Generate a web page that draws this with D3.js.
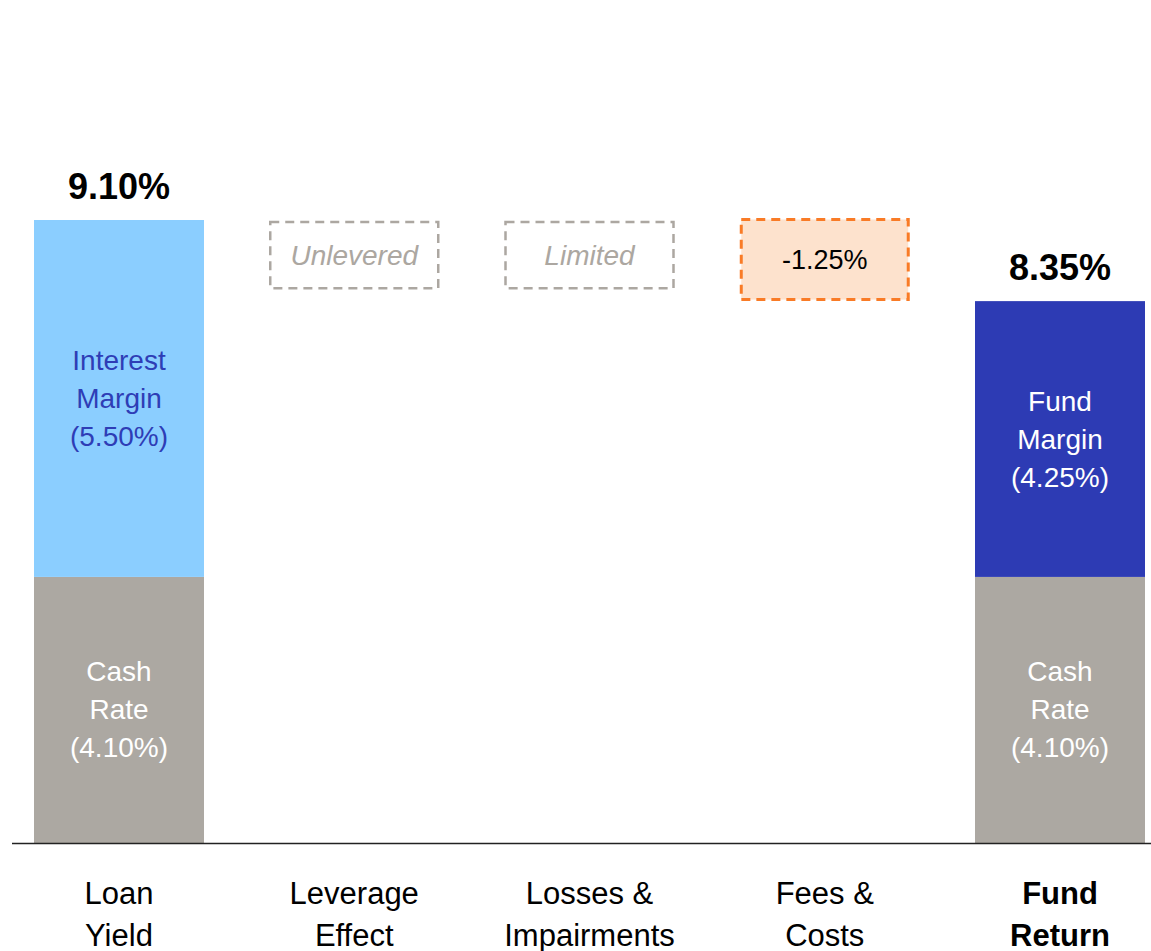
<!DOCTYPE html>
<html>
<head>
<meta charset="utf-8">
<script src="https://cdn.jsdelivr.net/npm/d3@7"></script>
<style>
  html, body { margin: 0; padding: 0; background: #fff; }
  svg { display: block; font-family: Arial, "Liberation Sans", sans-serif; }
</style>
</head>
<body>
<svg id="chart" width="1151" height="951"></svg>
<script>
// ---- data ----
const categories = ["Loan Yield", "Leverage Effect", "Losses & Impairments", "Fees & Costs", "Fund Return"];
const categoryLines = [["Loan", "Yield"], ["Leverage", "Effect"], ["Losses &", "Impairments"], ["Fees &", "Costs"], ["Fund", "Return"]];
const cashRate = [4.10, null, null, null, 4.10];
const marginValues = [5.50, null, null, null, 4.25];
const marginNames = [["Interest", "Margin"], null, null, null, ["Fund", "Margin"]];
const totalLabels = ["9.10%", null, null, null, "8.35%"];
const placeholderText = [null, "Unlevered", "Limited", null, null];
const placeholderRange = [8.55, 9.60];
const feeValue = -1.25;
const feeTop = 9.60;

// ---- layout ----
const svg = d3.select("#chart");
const W = 1151, H = 951;
const baseY = 843;

const x = d3.scaleBand().domain(categories).range([34, 1145]).paddingInner(0.2774).paddingOuter(0);
const y = d3.scaleLinear().domain([0, 9.60]).range([baseY, 220]);
const bw = x.bandwidth();
const cx = c => x(c) + bw / 2;

const colors = {
  cash: "#aca8a2", interest: "#8bceff", fund: "#2d3bb4",
  interestText: "#2e3db6", gray: "#aca7a1", orange: "#f97b26", peach: "#fde2cd"
};

// stacked bars
categories.forEach((c, i) => {
  if (cashRate[i] == null) return;
  const x0 = x(c);
  const segs = [
    { lo: 0, hi: cashRate[i], fill: colors.cash, lines: ["Cash", "Rate", `(${cashRate[i].toFixed(2)}%)`], tc: "#fff" },
    { lo: cashRate[i], hi: cashRate[i] + marginValues[i], fill: i === 0 ? colors.interest : colors.fund,
      lines: [...marginNames[i], `(${marginValues[i].toFixed(2)}%)`], tc: i === 0 ? colors.interestText : "#fff" }
  ];
  segs.forEach(s => {
    svg.append("rect").attr("x", x0).attr("width", bw)
      .attr("y", y(s.hi)).attr("height", y(s.lo) - y(s.hi)).attr("fill", s.fill);
    const mid = (y(s.lo) + y(s.hi)) / 2;
    const lh = 38;
    s.lines.forEach((t, k) => {
      svg.append("text").attr("x", cx(c)).attr("y", mid + (k - 1) * lh)
        .attr("text-anchor", "middle").attr("dominant-baseline", "central")
        .attr("font-size", 28).attr("fill", s.tc).text(t);
    });
  });
  svg.append("text").attr("x", cx(c)).attr("y", y(cashRate[i] + marginValues[i]) - 34)
    .attr("text-anchor", "middle").attr("dominant-baseline", "central")
    .attr("font-size", 36).attr("font-weight", "bold").attr("fill", "#000").text(totalLabels[i]);
});

// placeholder boxes
categories.forEach((c, i) => {
  if (!placeholderText[i]) return;
  const x0 = x(c);
  const yt = y(placeholderRange[1]), yb = y(placeholderRange[0]);
  svg.append("rect").attr("x", x0 + 1).attr("width", bw - 2)
    .attr("y", yt + 2).attr("height", yb - yt - 2)
    .attr("fill", "none").attr("stroke", colors.gray).attr("stroke-width", 2.5)
    .attr("stroke-dasharray", "9,6");
  svg.append("text").attr("x", cx(c)).attr("y", (yt + yb) / 2 + 1)
    .attr("text-anchor", "middle").attr("dominant-baseline", "central")
    .attr("font-size", 28).attr("font-style", "italic").attr("fill", colors.gray).text(placeholderText[i]);
});

// fees box (floating bar)
{
  const c = categories[3];
  const x0 = x(c);
  const yt = y(feeTop) - 2, yb = y(feeTop + feeValue);
  svg.append("rect").attr("x", x0 + 1.5).attr("width", bw - 3)
    .attr("y", yt + 1.5).attr("height", yb - yt - 3)
    .attr("fill", colors.peach).attr("stroke", colors.orange).attr("stroke-width", 3)
    .attr("stroke-dasharray", "9,6");
  svg.append("text").attr("x", cx(c)).attr("y", (yt + yb) / 2)
    .attr("text-anchor", "middle").attr("dominant-baseline", "central")
    .attr("font-size", 27).attr("fill", "#000").text(`${feeValue.toFixed(2)}%`);
}

// baseline
svg.append("line").attr("x1", 12).attr("x2", W).attr("y1", baseY + 0.5).attr("y2", baseY + 0.5)
  .attr("stroke", "#222").attr("stroke-width", 1.5);

// category labels
categories.forEach((c, i) => {
  categoryLines[i].forEach((t, k) => {
    svg.append("text").attr("x", cx(c)).attr("y", 893 + k * 42)
      .attr("text-anchor", "middle").attr("dominant-baseline", "central")
      .attr("font-size", 31).attr("font-weight", i === 4 ? "bold" : "normal")
      .attr("fill", "#000").text(t);
  });
});
</script>
</body>
</html>
